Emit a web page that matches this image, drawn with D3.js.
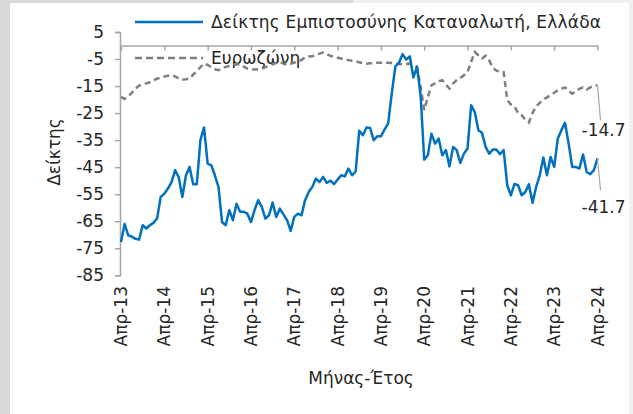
<!DOCTYPE html>
<meta charset="utf-8">
<script src="https://d3js.org/d3.v7.min.js"></script>
<style>
  body { margin: 0; }
  text { font-family: "DejaVu Sans", sans-serif; fill: #262626; }
</style>
<body>
<svg id="chart" width="633" height="414"></svg>
<script>
  // tick labels, one per April
  var tickLabels = ["Απρ-13", "Απρ-14", "Απρ-15", "Απρ-16", "Απρ-17", "Απρ-18",
    "Απρ-19", "Απρ-20", "Απρ-21", "Απρ-22", "Απρ-23", "Απρ-24"];
  var yTicks = [5, -5, -15, -25, -35, -45, -55, -65, -75, -85];

  // monthly values, Apr 2013 - Apr 2024
  var greece = [
    -72.7, -66.0, -70.2, -70.7, -71.5, -71.8, -66.5, -67.7, -66.5, -65.6, -64.0, -56.0,
    -54.8, -52.9, -50.5, -46.1, -48.8, -56.0, -48.0, -44.9, -51.3, -51.3, -35.0, -30.3,
    -43.7, -44.3, -48.0, -52.3, -65.3, -66.5, -60.9, -64.6, -58.5, -61.5, -61.5, -62.2,
    -65.3, -60.9, -57.2, -59.7, -64.0, -62.8, -58.1, -63.4, -60.3, -62.5, -64.6, -68.6,
    -63.4, -62.2, -62.8, -57.2, -54.2, -52.3, -49.2, -50.5, -48.6, -50.8, -50.0, -51.3,
    -49.6, -48.0, -48.4, -45.5, -48.0, -46.6, -31.5, -33.2, -30.3, -30.5, -35.0, -33.6,
    -33.6, -31.1, -28.9, -17.8, -7.7, -6.4, -3.2, -5.2, -4.0, -11.8, -7.9, -18.4,
    -42.2, -40.6, -32.6, -36.3, -34.4, -40.6, -38.7, -44.7, -37.5, -38.7, -43.4, -40.0,
    -38.1, -22.1, -24.6, -31.3, -32.3, -37.5, -40.0, -38.5, -38.5, -40.2, -38.7, -51.7,
    -55.4, -51.2, -51.7, -55.4, -54.2, -51.3, -58.2, -52.3, -48.0, -41.4, -48.0, -41.2,
    -44.9, -34.4, -31.3, -28.6, -36.3, -44.9, -44.9, -45.5, -40.3, -46.8, -47.6, -46.1,
    -41.7
  ];
  var eurozone = [
    -19.0, -19.8, -18.8, -17.5, -16.0, -14.8, -14.5, -14.0, -13.6, -12.8, -12.3, -11.8,
    -11.5, -11.2, -11.0, -11.4, -12.2, -12.6, -12.5, -12.2, -10.8, -9.5, -8.0, -6.7,
    -7.2, -8.0, -8.8, -9.1, -8.5, -7.9, -7.6, -7.3, -7.0, -6.9, -7.8, -8.5,
    -8.7, -8.9, -8.8, -8.6, -8.0, -7.5, -7.0, -6.5, -6.1, -6.7, -7.2, -6.8,
    -6.3, -6.0, -5.3, -4.4, -4.1, -4.0, -3.5, -3.0, -2.6, -3.2, -3.8, -4.2,
    -4.5, -4.8, -5.2, -5.4, -5.6, -5.8, -6.2, -6.5, -6.7, -6.6, -6.5, -6.4,
    -6.4, -6.4, -6.4, -6.5, -6.7, -6.8, -6.9, -6.8, -6.7, -7.0, -7.9, -15.3,
    -23.9, -19.0, -14.7, -14.0, -13.2, -12.8, -14.5, -15.9, -14.0, -12.8, -12.0, -11.0,
    -9.8, -6.0, -2.4, -3.6, -4.8, -3.8, -5.5, -8.2, -9.3, -9.6, -9.8, -20.2,
    -21.8, -22.5, -25.0, -25.8, -27.5, -28.5, -25.0, -22.5, -21.2, -20.0, -19.2, -18.4,
    -17.5, -16.5, -16.0, -15.5, -16.8, -17.8, -17.0, -16.0, -15.5, -16.3, -15.5, -14.9,
    -14.7
  ];
  var seriesNames = ["Δείκτης Εμπιστοσύνης Καταναλωτή, Ελλάδα", "Ευρωζώνη"];

  var svg = d3.select("#chart");

  // page background / frame
  svg.append("rect").attr("width", 633).attr("height", 414).attr("fill", "#f0f0f0");
  svg.append("rect").attr("width", 353).attr("height", 3).attr("fill", "#d9d9d9");
  svg.append("rect").attr("width", 10).attr("height", 414).attr("fill", "#d9d9d9");
  svg.append("rect").attr("x", 10).attr("y", 3).attr("width", 619).attr("height", 411).attr("fill", "#fff");

  var x = d3.scaleLinear().domain([0, greece.length - 1]).range([121, 597.5]);
  var y = d3.scaleLinear().domain([-85, 5]).range([275.3, 32]);

  var axisColor = "#a6a6a6";

  // y axis
  var yAxis = svg.append("g")
    .attr("transform", "translate(120,0)")
    .call(d3.axisLeft(y).tickValues(yTicks).tickSize(5).tickPadding(11));
  yAxis.select(".domain").attr("stroke", axisColor).attr("stroke-width", 1.5);
  yAxis.selectAll(".tick line").attr("stroke", axisColor).attr("stroke-width", 1.5);
  yAxis.selectAll(".tick text").style("font-size", "17px").style("font-family", "DejaVu Sans").attr("fill", "#262626")
    .text(function (d) { return d < 0 ? "-" + Math.abs(d) : d; });

  // x axis at zero, ticks every April
  var aprils = tickLabels.map(function (t, i) { return i * 12; });
  var xAxis = svg.append("g")
    .attr("transform", "translate(0," + y(0) + ")")
    .call(d3.axisBottom(x).tickValues(aprils).tickSize(5).tickSizeOuter(0).tickFormat(""));
  xAxis.select(".domain").attr("stroke", axisColor).attr("stroke-width", 1.5);
  xAxis.selectAll(".tick line").attr("stroke", axisColor).attr("stroke-width", 1.5);

  // rotated month labels below the plot
  svg.append("g").selectAll("text")
    .data(tickLabels)
    .enter()
    .append("text")
    .attr("transform", function (d, i) { return "translate(" + (x(aprils[i]) + 6) + ",286) rotate(-90)"; })
    .attr("text-anchor", "end")
    .style("font-size", "17px")
    .text(function (d) { return d; });

  // axis titles
  svg.append("text")
    .attr("transform", "translate(60,152) rotate(-90)")
    .attr("text-anchor", "middle")
    .style("font-size", "17px")
    .text("Δείκτης");
  svg.append("text")
    .attr("x", 361).attr("y", 384)
    .attr("text-anchor", "middle")
    .style("font-size", "17px")
    .text("Μήνας-Έτος");

  // legend
  var legend = svg.append("g");
  legend.append("line").attr("x1", 135).attr("x2", 203).attr("y1", 22).attr("y2", 22)
    .attr("stroke", "#0070c0").attr("stroke-width", 2.5);
  legend.append("text").attr("x", 211).attr("y", 28).style("font-size", "17px")
    .attr("textLength", 390).attr("lengthAdjust", "spacing").text(seriesNames[0]);
  legend.append("line").attr("x1", 135).attr("x2", 203).attr("y1", 58).attr("y2", 58)
    .attr("stroke", "#7f7f7f").attr("stroke-width", 2.5).attr("stroke-dasharray", "7,4");
  legend.append("text").attr("x", 211).attr("y", 64).style("font-size", "17px").text(seriesNames[1]);

  var line = d3.line()
    .x(function (d, i) { return x(i); })
    .y(function (d) { return y(d); });

  svg.append("path").datum(eurozone)
    .attr("d", line).attr("fill", "none")
    .attr("stroke", "#7f7f7f").attr("stroke-width", 2.5).attr("stroke-dasharray", "6,4");

  svg.append("path").datum(greece)
    .attr("d", line).attr("fill", "none")
    .attr("stroke", "#0070c0").attr("stroke-width", 2.5).attr("stroke-linejoin", "round");

  // end labels with leader lines
  var last = greece.length - 1;
  var ends = [
    { v: eurozone[last], ly: y(eurozone[last]) + 35, ty: y(eurozone[last]) + 51 },
    { v: greece[last], ly: y(greece[last]) + 32, ty: y(greece[last]) + 55 }
  ];
  ends.forEach(function (e) {
    svg.append("line")
      .attr("x1", x(last)).attr("y1", y(e.v))
      .attr("x2", x(last) + 3).attr("y2", e.ly)
      .attr("stroke", axisColor).attr("stroke-width", 1.2);
    svg.append("text")
      .attr("x", x(last) + 6).attr("y", e.ty)
      .attr("text-anchor", "middle")
      .style("font-size", "17px")
      .text(d3.format(".1f")(e.v).replace("−", "-"));
  });
</script>
</body>
